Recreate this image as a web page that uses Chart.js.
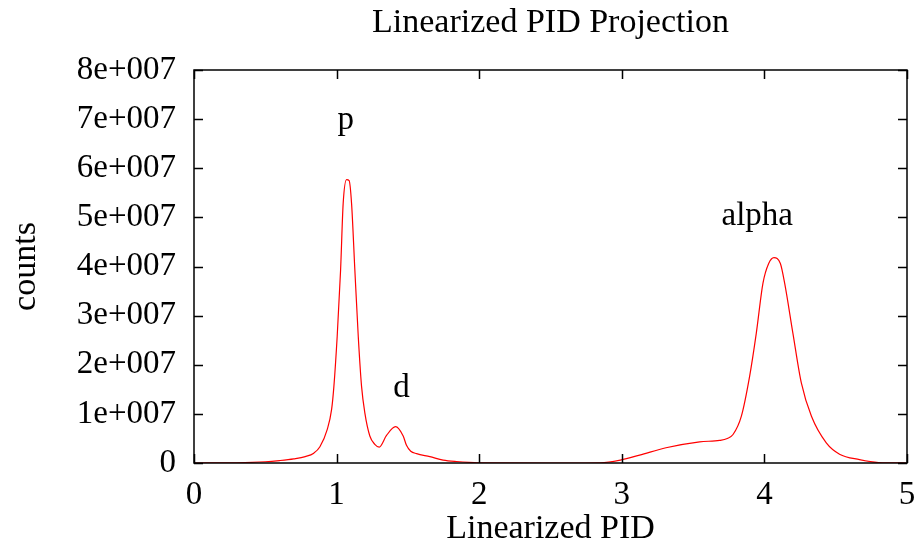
<!DOCTYPE html>
<html>
<head>
<meta charset="utf-8">
<script src="https://cdn.jsdelivr.net/npm/chart.js@4"></script>
<style>
  html, body { margin: 0; padding: 0; background: #fff; }
  #wrap { width: 919px; height: 546px; }
</style>
</head>
<body>
<div id="wrap"><canvas id="c" width="919" height="546"></canvas></div>
<script>
// valors llegits del gràfic (x = PID linealitzat, y = comptes)
const pid = [0.0, 0.3, 0.5, 0.6, 0.7, 0.78, 0.84, 0.883, 0.934, 0.965, 0.981, 1.004, 1.028, 1.046, 1.07, 1.088, 1.105, 1.128, 1.152, 1.175, 1.198, 1.233, 1.268, 1.299, 1.35, 1.413, 1.467, 1.49, 1.52, 1.561, 1.654, 1.747, 1.84, 2.0, 2.5, 2.85, 2.99, 3.125, 3.31, 3.546, 3.686, 3.74, 3.78, 3.838, 3.896, 3.943, 3.99, 4.03, 4.067, 4.112, 4.142, 4.2, 4.259, 4.33, 4.434, 4.527, 4.667, 4.8, 5.0];
const counts = [0, 0.005e7, 0.025e7, 0.05e7, 0.085e7, 0.13e7, 0.2e7, 0.33e7, 0.68e7, 1.09e7, 1.56e7, 2.57e7, 3.93e7, 5.28e7, 5.77e7, 5.75e7, 5.28e7, 3.93e7, 2.57e7, 1.56e7, 1.02e7, 0.55e7, 0.38e7, 0.325e7, 0.56e7, 0.74e7, 0.55e7, 0.36e7, 0.24e7, 0.19e7, 0.13e7, 0.06e7, 0.03e7, 0.005e7, 0, 0.005e7, 0.06e7, 0.16e7, 0.31e7, 0.43e7, 0.46e7, 0.5e7, 0.58e7, 0.95e7, 1.76e7, 2.64e7, 3.66e7, 4.06e7, 4.18e7, 4.06e7, 3.66e7, 2.64e7, 1.63e7, 0.95e7, 0.41e7, 0.18e7, 0.07e7, 0.01e7, 0];
const picNoms = ['p', 'd', 'alpha'];
const picX = [1.065, 1.455, 3.95];
const picY = [6.97e7, 1.53e7, 5.02e7];
const titol = 'Linearized PID Projection';

const font = "'Liberation Serif', 'Times New Roman', serif";
const mida = 33;
const midaTitol = 34;

const etiqY = v => v === 0 ? '0' : (v / 1e7) + 'e+007';

// marques cap endins a les quatre vores, com gnuplot
const vores = {
  id: 'vores',
  afterDraw(chart) {
    const { ctx, chartArea: a, scales: { x, y } } = chart;
    ctx.save();
    ctx.strokeStyle = '#000';
    ctx.lineWidth = 1.5;
    x.ticks.forEach(t => {
      const px = Math.round(x.getPixelForValue(t.value)) + 0.5;
      ctx.beginPath();
      ctx.moveTo(px, a.bottom); ctx.lineTo(px, a.bottom - 9);
      ctx.moveTo(px, a.top); ctx.lineTo(px, a.top + 9);
      ctx.stroke();
    });
    y.ticks.forEach(t => {
      const py = Math.round(y.getPixelForValue(t.value)) + 0.5;
      ctx.beginPath();
      ctx.moveTo(a.left, py); ctx.lineTo(a.left + 9, py);
      ctx.moveTo(a.right, py); ctx.lineTo(a.right - 9, py);
      ctx.stroke();
    });
    ctx.strokeRect(a.left, a.top, a.right - a.left, a.bottom - a.top);
    ctx.fillStyle = '#000';
    ctx.font = mida + 'px ' + font;
    ctx.textAlign = 'center';
    ctx.textBaseline = 'middle';
    picNoms.forEach((n, i) => {
      ctx.fillText(n, x.getPixelForValue(picX[i]), y.getPixelForValue(picY[i]));
    });
    ctx.font = midaTitol + 'px ' + font;
    ctx.fillText(titol, (a.left + a.right) / 2, 23);
    ctx.restore();
  }
};

new Chart(document.getElementById('c'), {
  type: 'line',
  data: {
    datasets: [{
      data: pid.map((v, i) => ({ x: v, y: counts[i] })),
      borderColor: '#ff0000',
      borderWidth: 1.2,
      pointRadius: 0,
      cubicInterpolationMode: 'monotone',
      fill: false
    }]
  },
  options: {
    responsive: false,
    animation: false,
    layout: { padding: { left: 0, right: 0, top: 70, bottom: 0 } },
    plugins: {
      legend: { display: false },
      tooltip: { enabled: false },
      title: { display: false }
    },
    scales: {
      x: {
        type: 'linear', min: 0, max: 5,
        grid: { display: false, drawTicks: false },
        border: { display: false },
        ticks: { stepSize: 1, color: '#000', padding: 13, font: { family: font, size: mida } },
        title: { display: true, text: 'Linearized PID', color: '#000', padding: { top: 4, bottom: 0 }, font: { family: font, size: midaTitol, lineHeight: 1.0 } },
        afterFit: s => { s.height = 83; s.paddingRight = 12; }
      },
      y: {
        min: 0, max: 8e7,
        grid: { display: false, drawTicks: false },
        border: { display: false },
        ticks: { stepSize: 1e7, color: '#000', padding: 18, font: { family: font, size: mida }, callback: etiqY },
        title: { display: true, text: 'counts', color: '#000', padding: { top: 6, bottom: 20 }, font: { family: font, size: midaTitol } },
        afterFit: s => { s.width = 194; }
      }
    }
  },
  plugins: [vores]
});
</script>
</body>
</html>
